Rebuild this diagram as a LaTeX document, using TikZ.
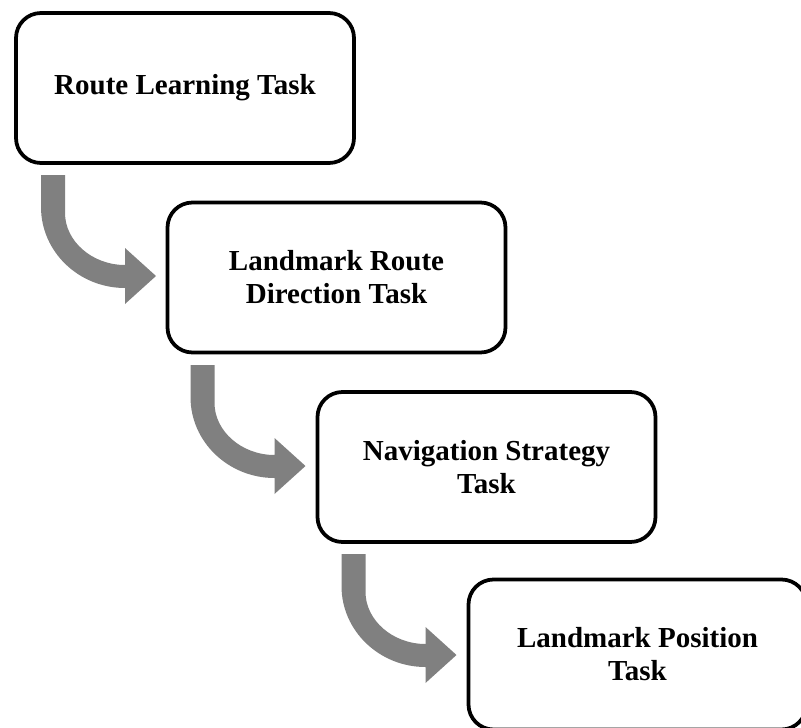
\documentclass[tikz,border=0pt]{standalone}
\usepackage{fontspec}
\setmainfont{Liberation Serif}
\usetikzlibrary{calc}
\definecolor{arrowgray}{RGB}{128,128,128}
% #1 = named coordinate of the arrow tip
\newcommand\bentarrow[1]{%
  \fill[arrowgray]
    ($(#1)+(-115,-101)$) -- ($(#1)+(-91,-101)$) -- ($(#1)+(-91,-63)$)
    .. controls ($(#1)+(-91,-35)$) and ($(#1)+(-64,-11)$) .. ($(#1)+(-31,-11)$)
    -- ($(#1)+(-31,-28)$) -- (#1) -- ($(#1)+(-31,28)$) -- ($(#1)+(-31,12)$)
    .. controls ($(#1)+(-77,12)$) and ($(#1)+(-115,-24)$) .. ($(#1)+(-115,-69)$)
    -- cycle;}
\begin{document}
\begin{tikzpicture}[x=1pt,y=-1pt,
  taskbox/.style={draw=black, line width=3.75pt, rounded corners=25pt,
    minimum width=338pt, minimum height=150pt, inner sep=0pt, outer sep=0pt,
    align=center, font=\fontsize{29}{33}\selectfont\bfseries}]
\useasboundingbox (0,0) rectangle (801,728);
\clip (0,0) rectangle (801,728);
\node[taskbox] (b1) at (185,88) {Route Learning Task};
\node[taskbox] (b2) at (336.5,277.5) {Landmark Route\\Direction Task};
\node[taskbox] (b3) at (486.5,467) {Navigation Strategy\\Task};
\node[taskbox] (b4) at (637.5,654.5) {Landmark Position\\Task};
\coordinate (t1) at (156,276);
\coordinate (t2) at (305.5,466);
\coordinate (t3) at (456.5,655);
\bentarrow{t1}
\bentarrow{t2}
\bentarrow{t3}
\end{tikzpicture}
\end{document}
